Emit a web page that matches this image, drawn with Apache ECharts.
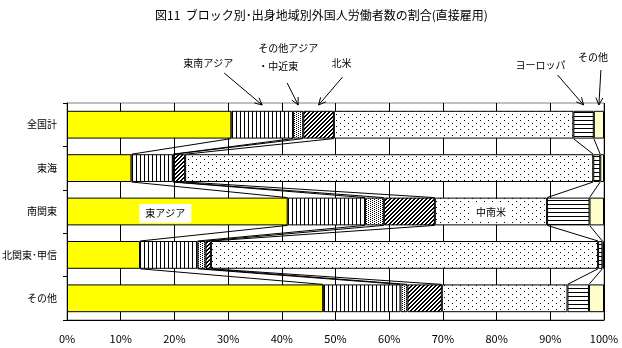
<!DOCTYPE html>
<html>
<head>
<meta charset="utf-8">
<script src="https://cdn.jsdelivr.net/npm/echarts@6/dist/echarts.min.js"></script>
<style>
  html, body { margin: 0; padding: 0; background: #fff; }
  #chart { width: 622px; height: 348px; }
</style>
</head>
<body>
<div id="chart"></div>
<script>
// Regions (rows, top to bottom)
const categories = ['全国計', '東海', '南関東', '北関東･甲信', 'その他'];

// Share of foreign workers by region of origin (%), one array per origin group
const eastAsia            = [30.6, 12.0, 41.1, 13.6, 47.7];
const southeastAsia       = [11.5,  7.7, 14.4, 10.7, 14.4];
const otherAsiaMiddleEast = [ 1.9,  0.2,  3.5,  1.5,  1.3];
const northAmerica        = [ 5.7,  2.1,  9.5,  1.0,  6.4];
const latinAmerica        = [44.6, 76.0, 20.9, 72.1, 23.4];
const europe              = [ 3.8,  1.3,  7.9,  0.8,  4.0];
const otherRegions        = [ 1.9,  0.7,  2.7,  0.3,  2.8];

const seriesNames = ['東アジア', '東南アジア', 'その他アジア・中近東', '北米', '中南米', 'ヨーロッパ', 'その他'];
const seriesValues = [eastAsia, southeastAsia, otherAsiaMiddleEast, northAmerica, latinAmerica, europe, otherRegions];

// Percent axis ticks
const xTickMin = 0, xTickMax = 100, xTickStep = 10;

const FONT = '"Noto Sans CJK JP", "Noto Sans", sans-serif';

// Monochrome fill patterns, painted pixel by pixel on small tiles
function tile(w, h, bg, paint) {
  const c = document.createElement('canvas');
  c.width = w; c.height = h;
  const g = c.getContext('2d');
  g.fillStyle = bg; g.fillRect(0, 0, w, h);
  g.fillStyle = '#000';
  paint(g, w, h);
  return { image: c, repeat: 'repeat' };
}
const fills = [
  '#ffff00',
  tile(4, 4, '#fff', g => g.fillRect(0, 0, 1, 4)),                       // vertical stripes
  tile(4, 2, '#fff', g => { g.fillRect(0, 0, 1, 1); g.fillRect(2, 1, 1, 1); }), // dense dots
  tile(4, 4, '#fff', (g) => {                                           // wide upward diagonal
    for (let y = 0; y < 4; y++) for (let x = 0; x < 4; x++) if ((x + y) % 4 < 2) g.fillRect(x, y, 1, 1);
  }),
  tile(8, 6, '#fff', g => { g.fillRect(0, 0, 1, 1); g.fillRect(4, 3, 1, 1); }), // sparse dots
  tile(4, 4, '#fff', g => g.fillRect(0, 0, 4, 1)),                       // horizontal stripes
  '#ffffcc'
];

const BAR_RATIO = 0.64;

// In-bar captions shown on the 南関東 row
const inBarCaptions = { 0: { row: 2, offset: [-12, 2] }, 4: { row: 2, offset: [0, 1] } };

const barSeries = seriesValues.map((vals, s) => ({
  name: seriesNames[s],
  type: 'bar',
  stack: 'share',
  barWidth: (BAR_RATIO * 100) + '%',
  silent: true,
  itemStyle: { color: fills[s], borderColor: '#000', borderWidth: 1 },
  data: vals.map((v, i) => {
    const cap = inBarCaptions[s];
    if (cap && cap.row === i) {
      return {
        value: v,
        label: {
          show: true, position: 'inside', offset: cap.offset,
          formatter: seriesNames[s], color: '#000', fontSize: 10, fontFamily: FONT,
          backgroundColor: '#fff', padding: [5, 6, 4, 6]
        }
      };
    }
    return v;
  })
}));

// Series lines joining each segment boundary of one bar to the next bar
const cumulative = categories.map((_, i) => {
  let s = 0;
  return seriesValues.slice(0, seriesValues.length - 1).map(a => (s += a[i]));
});
const connectorData = [];
for (let i = 0; i < categories.length - 1; i++) {
  for (let k = 0; k < cumulative[i].length; k++) {
    connectorData.push([cumulative[i][k], i, cumulative[i + 1][k], i + 1]);
  }
}
const connectorSeries = {
  type: 'custom',
  silent: true,
  z: 3,
  encode: { x: [0, 2], y: [1, 3] },
  data: connectorData,
  renderItem(params, api) {
    const a = api.coord([api.value(0), api.value(1)]);
    const b = api.coord([api.value(2), api.value(3)]);
    const half = api.size([0, 1])[1] * BAR_RATIO / 2;
    return {
      type: 'line',
      shape: { x1: a[0], y1: a[1] + half, x2: b[0], y2: b[1] - half },
      style: { stroke: '#000', lineWidth: 1 }
    };
  }
};

const GRID = { left: 67, right: 18, top: 103, bottom: 28 };

const chart = echarts.init(document.getElementById('chart'), null, { renderer: 'canvas' });
chart.setOption({
  animation: false,
  backgroundColor: '#fff',
  title: {
    text: '図11  ブロック別･出身地域別外国人労働者数の割合(直接雇用)',
    left: 150, top: 4,
    textStyle: { fontSize: 12, fontWeight: 'normal', color: '#000', fontFamily: FONT }
  },
  grid: {
    left: GRID.left, right: GRID.right, top: GRID.top, bottom: GRID.bottom,
    outerBoundsMode: 'none', containLabel: false,
    show: true, borderColor: '#808080', borderWidth: 1
  },
  xAxis: {
    type: 'value', min: xTickMin, max: xTickMax, interval: xTickStep,
    axisLine: { show: true, lineStyle: { color: '#000' } },
    axisTick: { show: false },
    splitLine: { show: true, lineStyle: { color: '#000', width: 1 } },
    axisLabel: { formatter: '{value}%', color: '#000', fontSize: 11, fontFamily: FONT, margin: 13 }
  },
  yAxis: {
    type: 'category', data: categories, inverse: true,
    axisLine: { show: true, lineStyle: { color: '#000' } },
    axisTick: { show: true, length: 4, lineStyle: { color: '#000' } },
    axisLabel: { color: '#000', fontSize: 10, fontFamily: FONT, margin: 10 }
  },
  series: barSeries.concat([connectorSeries])
});

// Callouts above the 全国計 bar, each arrow pointing at the middle of its segment
const callouts = [
  { seg: 1, lines: ['東南アジア'], align: 'center', text: [-54, -42], from: [-38, -32] },
  { seg: 2, lines: ['その他アジア', '・中近東'], align: 'left', text: [-40, -57], lineGap: 18, from: [-11, -22] },
  { seg: 3, lines: ['北米'], align: 'center', text: [23, -42], from: [24, -28] },
  { seg: 5, lines: ['ヨーロッパ'], align: 'center', text: [-43, -40], from: [-26, -30] },
  { seg: 6, lines: ['その他'], align: 'center', text: [-6, -48], from: [2, -35] }
];
const graphics = [];
callouts.forEach(c => {
  const start = c.seg === 0 ? 0 : cumulative[0][c.seg - 1];
  const end = c.seg < cumulative[0].length ? cumulative[0][c.seg] : 100;
  const px = chart.convertToPixel({ gridIndex: 0 }, [(start + end) / 2, 0]);
  const tip = [px[0], GRID.top + 2];
  c.lines.forEach((t, j) => {
    graphics.push({
      type: 'text', silent: true,
      x: tip[0] + c.text[0], y: tip[1] + c.text[1] + j * (c.lineGap || 0),
      style: { text: t, font: '10px ' + FONT, fill: '#000', align: c.align, verticalAlign: 'middle' }
    });
  });
  const s = [tip[0] + c.from[0], tip[1] + c.from[1]];
  graphics.push({ type: 'line', silent: true, shape: { x1: s[0], y1: s[1], x2: tip[0], y2: tip[1] }, style: { stroke: '#000', lineWidth: 1 } });
  const ang = Math.atan2(tip[1] - s[1], tip[0] - s[0]);
  [0.45, -0.45].forEach(d => {
    const a = ang + Math.PI + d;
    graphics.push({
      type: 'line', silent: true,
      shape: { x1: tip[0], y1: tip[1], x2: tip[0] + 8 * Math.cos(a), y2: tip[1] + 8 * Math.sin(a) },
      style: { stroke: '#000', lineWidth: 1 }
    });
  });
});
chart.setOption({ graphic: graphics });
</script>
</body>
</html>
